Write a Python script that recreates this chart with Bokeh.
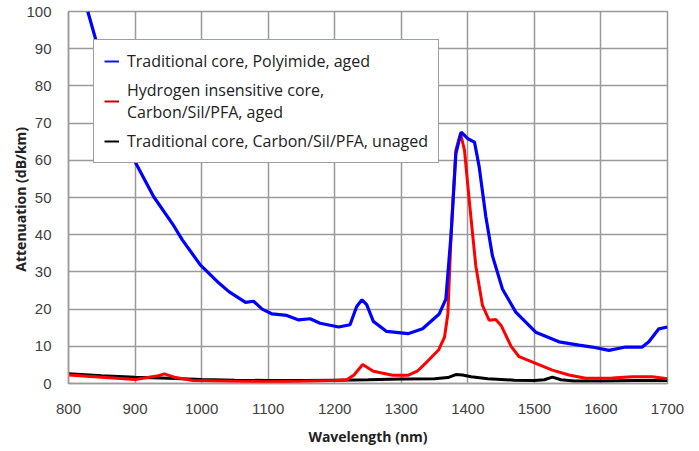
from bokeh.plotting import figure
from bokeh.models import Range1d, FixedTicker, Legend, LegendItem, ColumnDataSource
from bokeh.embed import file_html
from bokeh.resources import INLINE

# Data
blue_x = [829, 841, 870, 900, 928, 956, 971, 998, 1026, 1041, 1066, 1078, 1091, 1106, 1128,
          1146, 1163, 1178, 1206, 1223, 1233, 1241, 1248, 1258, 1278, 1310, 1332, 1357, 1367,
          1375, 1382, 1390, 1400, 1410, 1417, 1427, 1437, 1452, 1472, 1502, 1537, 1567, 1587,
          1612, 1637, 1662, 1672, 1687, 1700]
blue_y = [100, 92.4, 75, 59.6, 50.2, 43, 38.6, 31.9, 27, 24.7, 21.8, 22.1, 20, 18.7, 18.3,
          17.1, 17.4, 16.2, 15.2, 15.8, 20.7, 22.5, 21.2, 16.7, 14, 13.4, 14.7, 18.7, 22.7,
          40.5, 61.8, 67.6, 65.8, 64.9, 58.3, 44.9, 34.3, 25.4, 19.2, 13.8, 11.2, 10.3, 9.8,
          8.9, 9.8, 9.8, 11.2, 14.7, 15.2]

red_x = [800, 850, 900, 933, 944, 959, 987, 1050, 1100, 1150, 1200, 1218, 1229, 1242, 1258,
         1287, 1310, 1324, 1339, 1356, 1365, 1370, 1375, 1382, 1389, 1395, 1402, 1412, 1422,
         1432, 1442, 1450, 1465, 1477, 1502, 1527, 1552, 1577, 1617, 1647, 1677, 1700]
red_y = [2.3, 1.7, 1.1, 2.0, 2.6, 1.7, 0.8, 0.6, 0.5, 0.6, 0.8, 1.0, 2.3, 5.1, 3.3,
         2.2, 2.2, 3.3, 5.9, 9.0, 12.5, 18.7, 40.5, 62.7, 67.2, 62.7, 49.4, 31.6, 21,
         17, 17.2, 15.6, 10, 7.2, 5.4, 3.6, 2.3, 1.4, 1.5, 1.8, 1.8, 1.3]

black_x = [800, 850, 900, 950, 1000, 1050, 1100, 1150, 1200, 1250, 1300, 1350, 1370, 1382,
           1392, 1405, 1430, 1470, 1500, 1515, 1527, 1540, 1560, 1600, 1650, 1700]
black_y = [2.6, 2.1, 1.7, 1.4, 1.1, 0.9, 0.8, 0.8, 0.9, 1.0, 1.2, 1.3, 1.6, 2.4,
           2.3, 1.8, 1.3, 0.9, 0.8, 1.0, 1.7, 1.0, 0.7, 0.7, 0.8, 0.8]

series_labels = ["Traditional core, Polyimide, aged",
                 "Hydrogen insensitive core,\nCarbon/Sil/PFA, aged",
                 "Traditional core, Carbon/Sil/PFA, unaged"]
x_ticks = [800, 900, 1000, 1100, 1200, 1300, 1400, 1500, 1600, 1700]
y_ticks = [0, 10, 20, 30, 40, 50, 60, 70, 80, 90, 100]

GRID = "#9a9a9a"
TXT = "#404040"

p = figure(frame_width=599, frame_height=372, output_backend="svg", toolbar_location=None,
           x_range=Range1d(800, 1700), y_range=Range1d(0, 100))
p.min_border_left = 68
p.min_border_right = 17
p.min_border_top = 11
p.min_border_bottom = 64
p.background_fill_color = "white"
p.border_fill_color = "white"
p.outline_line_color = GRID
p.outline_line_width = 1.5

p.line(black_x, black_y, line_color="#000000", line_width=3)
p.line(red_x, red_y, line_color="#ff0000", line_width=3)
p.line(blue_x, blue_y, line_color="#0000ff", line_width=3.2)

# legend-only renderers (one point far outside the visible range)
e = ColumnDataSource(data=dict(x=[0, 0], y=[-50, -50]))
lb = p.line("x", "y", source=e, line_color="#1010ff", line_width=2)
lr = p.line("x", "y", source=e, line_color="#c00000", line_width=2)
lk = p.line("x", "y", source=e, line_color="#000000", line_width=2)

legend = Legend(items=[LegendItem(label=series_labels[0], renderers=[lb]),
                       LegendItem(label=series_labels[1], renderers=[lr]),
                       LegendItem(label=series_labels[2], renderers=[lk])],
                location=(25, 220))
legend.label_text_font = "Open Sans"
legend.label_text_font_size = "16px"
legend.label_text_line_height = 1.05
legend.label_text_color = "#222222"
legend.glyph_width = 15
legend.glyph_height = 20
legend.label_height = 20
legend.label_standoff = 8
legend.padding = 10
legend.spacing = 7
legend.border_line_color = "#3a3f4a"
legend.border_line_width = 1
legend.background_fill_color = "white"
legend.background_fill_alpha = 1.0
p.add_layout(legend, "center")

for ax in (p.xaxis[0], p.yaxis[0]):
    ax.axis_line_color = GRID
    ax.axis_line_width = 1.5
    ax.major_tick_line_color = None
    ax.minor_tick_line_color = None
    ax.major_label_text_font = "Liberation Sans"
    ax.major_label_text_font_size = "15px"
    ax.major_label_text_color = TXT
    ax.axis_label_text_font = "Open Sans"
    ax.axis_label_text_font_size = "14px"
    ax.axis_label_text_font_style = "bold"
    ax.axis_label_text_color = "#222222"

p.xaxis.ticker = FixedTicker(ticks=x_ticks)
p.yaxis.ticker = FixedTicker(ticks=y_ticks)
p.xaxis.axis_label = "Wavelength (nm)"
p.yaxis.axis_label = "Attenuation  (dB/km)"
p.xaxis.major_label_standoff = 14
p.xaxis.axis_label_standoff = 10
p.yaxis.major_label_standoff = 11
p.yaxis.axis_label_standoff = -7

p.xgrid.ticker = FixedTicker(ticks=x_ticks)
p.ygrid.ticker = FixedTicker(ticks=y_ticks)
p.grid.grid_line_color = GRID
p.grid.grid_line_width = 1.5

open("out.html", "w").write(file_html(p, INLINE))
